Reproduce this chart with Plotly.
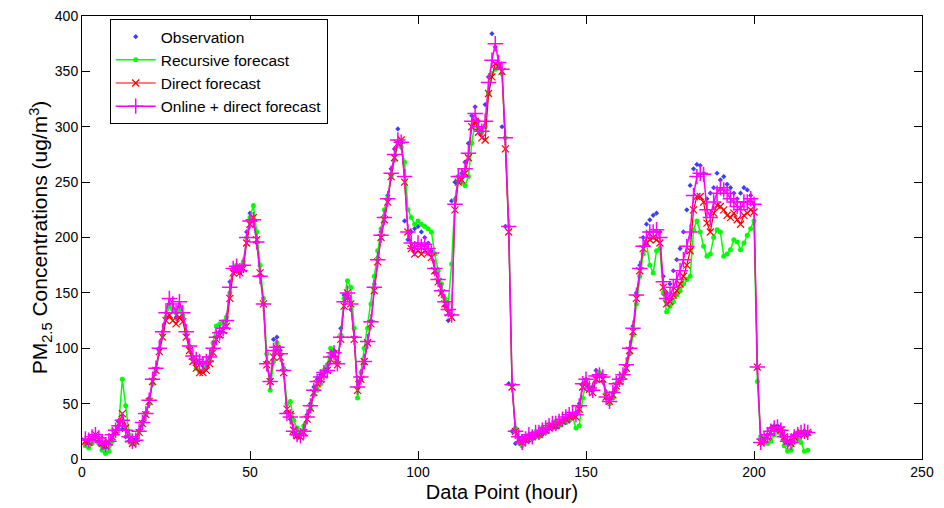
import plotly.graph_objects as go

hours = list(range(1, 217))

observation = [
    15, 14, 18, 20, 16, 12, 10, 14, 20, 24, 30, 27, 20, 16, 14, 18, 26, 34, 42, 55,
    72, 82, 100, 115, 132, 140, 136, 128, 138, 128, 112, 102, 92, 88, 86, 84, 86, 92, 100, 110,
    115, 118, 125, 160, 170, 172, 168, 176, 205, 222, 215, 195, 165, 140, 88, 72, 108, 110, 98, 80,
    42, 36, 24, 20, 22, 26, 40, 50, 65, 72, 76, 78, 82, 95, 98, 88, 118, 148, 145, 135,
    110, 70, 72, 86, 105, 125, 158, 182, 205, 220, 238, 262, 280, 298, 285, 215, 198, 205, 208, 210,
    205, 200, 195, 188, 168, 160, 150, 138, 125, 233, 250, 255, 258, 268, 285, 310, 318, 305, 298, 320,
    345, 384, 372, 355, 300, 210, 68, 25, 14, 18, 15, 20, 16, 22, 20, 24, 22, 26, 28, 30,
    28, 32, 33, 35, 34, 40, 42, 50, 68, 72, 65, 62, 80, 78, 70, 55, 52, 60, 68, 72,
    75, 85, 100, 120, 150, 175, 200, 212, 216, 220, 222, 205, 165, 150, 158, 170, 180, 190, 205, 225,
    247, 262, 266, 265, 258, 235, 240, 245, 258, 252, 255, 248, 245, 240, 235, 240, 245, 243, 238, 230,
    82, 14, 18, 22, 28, 30, 30, 26, 18, 14, 16, 22, 24, 24, 25, 22,
]

recursive = [
    12, 10, 14, 18, 14, 8, 5, 7, 16, 24, 34, 72, 48, 22, 14, 15, 25, 32, 40, 50,
    68, 80, 98, 112, 128, 138, 135, 132, 134, 130, 115, 100, 90, 82, 79, 80, 84, 92, 105, 120,
    122, 124, 128, 150, 172, 175, 172, 178, 200, 218, 229, 205, 175, 145, 95, 62, 88, 105, 95, 82,
    50, 52, 35, 28, 24, 30, 38, 45, 58, 62, 68, 80, 85, 100, 95, 86, 112, 145, 161, 155,
    118, 55, 78, 100, 118, 140, 165, 188, 208, 225, 236, 255, 270, 285, 282, 268, 225, 218, 212, 215,
    212, 210, 208, 205, 185, 170, 158, 145, 140, 176, 234, 255, 250, 247, 255, 285, 305, 298, 295, 300,
    330, 348, 352, 355, 348, 290, 210, 67, 28, 15, 12, 18, 22, 18, 24, 20, 28, 24, 30, 28,
    34, 30, 35, 33, 36, 38, 28, 30, 55, 68, 62, 65, 70, 78, 75, 60, 50, 55, 62, 70,
    75, 80, 95, 112, 140, 165, 185, 195, 175, 168, 188, 190, 150, 133, 138, 142, 148, 152, 158, 162,
    165, 207, 215, 205, 192, 183, 185, 200, 207, 205, 183, 185, 189, 198, 196, 189, 195, 202, 208, 215,
    70, 20, 15, 14, 16, 22, 26, 22, 12, 7, 8, 15, 18, 15, 7, 8,
]

direct = [
    16, 15, 19, 22, 18, 14, 12, 15, 20, 25, 32, 41, 28, 18, 14, 16, 24, 32, 40, 52,
    70, 80, 97, 110, 125, 130, 125, 122, 128, 124, 110, 98, 88, 82, 78, 78, 80, 86, 96, 108,
    112, 116, 120, 145, 168, 170, 168, 172, 195, 212, 218, 198, 168, 140, 85, 70, 92, 100, 92, 78,
    45, 40, 26, 21, 20, 24, 36, 46, 60, 68, 72, 76, 80, 90, 95, 85, 108, 138, 150, 140,
    108, 62, 72, 88, 105, 122, 152, 178, 200, 216, 232, 255, 272, 285, 288, 250, 205, 190, 185, 188,
    185, 188, 186, 182, 170, 160, 150, 140, 132, 128, 225, 250, 252, 258, 272, 300, 305, 295, 290, 288,
    330, 345, 357, 355, 350, 280, 205, 65, 25, 18, 15, 17, 20, 20, 22, 22, 25, 26, 28, 30,
    30, 32, 34, 36, 38, 40, 38, 45, 65, 70, 63, 60, 72, 75, 72, 56, 52, 58, 66, 70,
    75, 82, 98, 115, 145, 170, 190, 195, 198, 200, 198, 195, 155, 140, 142, 148, 152, 158, 165, 175,
    188, 225, 237, 237, 232, 213, 205, 222, 229, 228, 225, 220, 218, 222, 216, 212, 220, 222, 225, 223,
    83, 15, 18, 20, 24, 28, 28, 26, 20, 16, 14, 20, 22, 24, 22, 24,
]

online = [
    18, 17, 20, 22, 19, 15, 13, 16, 22, 26, 30, 35, 26, 20, 16, 17, 25, 33, 41, 53,
    72, 82, 100, 115, 132, 145, 140, 132, 142, 132, 115, 102, 93, 90, 88, 86, 88, 92, 100, 110,
    114, 118, 125, 155, 172, 174, 170, 175, 200, 215, 216, 196, 165, 140, 86, 70, 98, 101, 95, 80,
    41, 38, 25, 22, 21, 25, 38, 48, 62, 70, 74, 78, 80, 92, 96, 86, 110, 142, 150, 140,
    110, 65, 74, 88, 106, 124, 155, 180, 202, 218, 235, 258, 275, 288, 286, 255, 205, 195, 190, 195,
    192, 194, 190, 186, 172, 162, 152, 142, 135, 130, 230, 255, 255, 262, 276, 305, 312, 300, 296, 305,
    340, 360, 375, 358, 352, 290, 210, 67, 25, 20, 15, 18, 22, 20, 24, 24, 26, 28, 30, 32,
    32, 34, 36, 38, 40, 42, 40, 48, 68, 72, 64, 62, 75, 76, 74, 56, 52, 60, 68, 72,
    76, 85, 100, 118, 148, 172, 192, 200, 205, 205, 207, 200, 160, 145, 148, 155, 162, 170, 180, 192,
    205, 238, 255, 258, 257, 225, 218, 232, 240, 245, 243, 240, 235, 232, 228, 225, 232, 232, 235, 230,
    83, 15, 18, 22, 25, 28, 29, 26, 20, 16, 15, 20, 22, 24, 25, 24,
]

series_names = ["Observation", "Recursive forecast", "Direct forecast", "Online + direct forecast"]
x_ticks = [0, 50, 100, 150, 200, 250]
y_ticks = [0, 50, 100, 150, 200, 250, 300, 350, 400]

FONT = "Arial, 'Liberation Sans', sans-serif"

fig = go.Figure()

fig.add_trace(go.Scatter(
    x=hours, y=observation, name=series_names[0], mode="markers",
    marker=dict(symbol="diamond", size=4, color="#3c3cff"),
))
fig.add_trace(go.Scatter(
    x=hours, y=recursive, name=series_names[1], mode="lines+markers",
    line=dict(color="#00ff00", width=1.5),
    marker=dict(symbol="circle", size=5, color="#00ff00"),
))
fig.add_trace(go.Scatter(
    x=hours, y=direct, name=series_names[2], mode="lines+markers",
    line=dict(color="#ff0000", width=1.2),
    marker=dict(symbol="x-thin-open", size=7, color="#ff0000",
                line=dict(color="#ff0000", width=1.2)),
))
fig.add_trace(go.Scatter(
    x=hours, y=online, name=series_names[3], mode="lines+markers",
    line=dict(color="#ff00ff", width=1.5),
    marker=dict(symbol="cross-thin-open", size=11, color="#ff00ff",
                line=dict(color="#ff00ff", width=1.5)),
))

axis_common = dict(
    showline=True, linecolor="black", linewidth=1, mirror="ticks",
    ticks="inside", ticklen=8, tickcolor="black", tickwidth=1,
    showgrid=False, zeroline=False, automargin=False,
    tickfont=dict(family=FONT, size=14, color="black"),
)

fig.update_layout(
    width=944, height=508,
    margin=dict(l=82, r=22, t=16, b=49, autoexpand=False),
    paper_bgcolor="white", plot_bgcolor="white",
    font=dict(family=FONT, color="black"),
    xaxis=dict(range=[0, 250], tickvals=x_ticks,
               title=dict(text="Data Point (hour)", font=dict(family=FONT, size=20), standoff=6),
               **axis_common),
    yaxis=dict(range=[0, 400], tickvals=y_ticks,
               title=dict(text="PM<sub>2.5</sub> Concentrations (ug/m<sup>3</sup>)",
                          font=dict(family=FONT, size=21), standoff=0),
               **axis_common),
    legend=dict(
        x=0.033, y=0.993, xanchor="left", yanchor="top",
        bgcolor="white", bordercolor="black", borderwidth=1,
        font=dict(family=FONT, size=15.5, color="black"),
        tracegroupgap=0, itemwidth=40,
    ),
    showlegend=True,
)

fig.write_html(
    "out.html",
    config={"displayModeBar": False},
    post_script="document.body.style.margin='0px'; document.body.style.overflow='hidden';",
)
